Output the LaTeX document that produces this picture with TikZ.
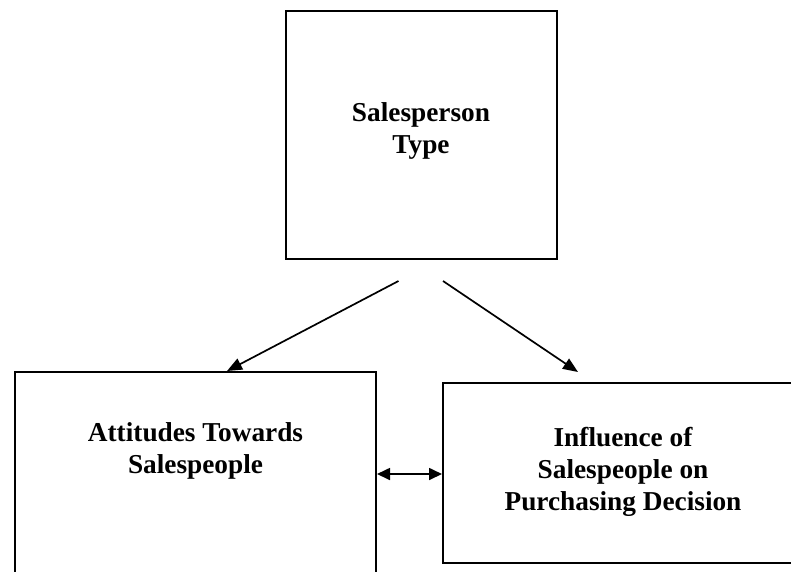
\documentclass[tikz,border=0pt]{standalone}
\usepackage{fontspec}
\setmainfont{Liberation Serif}
\usetikzlibrary{arrows.meta}
\begin{document}
\begin{tikzpicture}[x=1pt,y=-1pt,
  box/.style={draw=black, line width=2pt, rectangle, inner sep=0pt},
  lbl/.style={font=\fontsize{27.3}{32}\selectfont\bfseries, align=center, inner sep=0pt},
  arr/.style={line width=1.7pt, -{Triangle[length=15pt,width=12pt]}},
  darr/.style={line width=1.7pt, {Triangle[length=13pt,width=12pt]}-{Triangle[length=13pt,width=12pt]}}]
\clip (0,0) rectangle (791,571);
\fill[white] (0,0) rectangle (791,571);
% boxes
\node[box, minimum width=271pt, minimum height=248pt] (st) at (421,135) {};
\node[box, minimum width=361pt, minimum height=240pt] (att) at (195.5,492) {};
\node[box, minimum width=360pt, minimum height=180pt] (inf) at (623,473) {};
% texts
\node[lbl, anchor=base] (stt) at (421,153) {Salesperson\\Type};
\node[lbl, anchor=base] (attt) at (195.5,473) {Attitudes Towards\\Salespeople};
\node[lbl, anchor=base] (inft) at (623,510) {Influence of\\Salespeople on\\Purchasing Decision};
% free ends
\coordinate (s1) at (398.5,281);
\coordinate (s2) at (443,281);
\coordinate (e2) at (578,372);
\coordinate (dy) at (0,474);
\draw[arr] (s1) -- (att.north -| 227,0);
\draw[arr] (s2) -- (e2);
\draw[darr] (att.east |- dy) -- (inf.west |- dy);
\end{tikzpicture}
\end{document}
